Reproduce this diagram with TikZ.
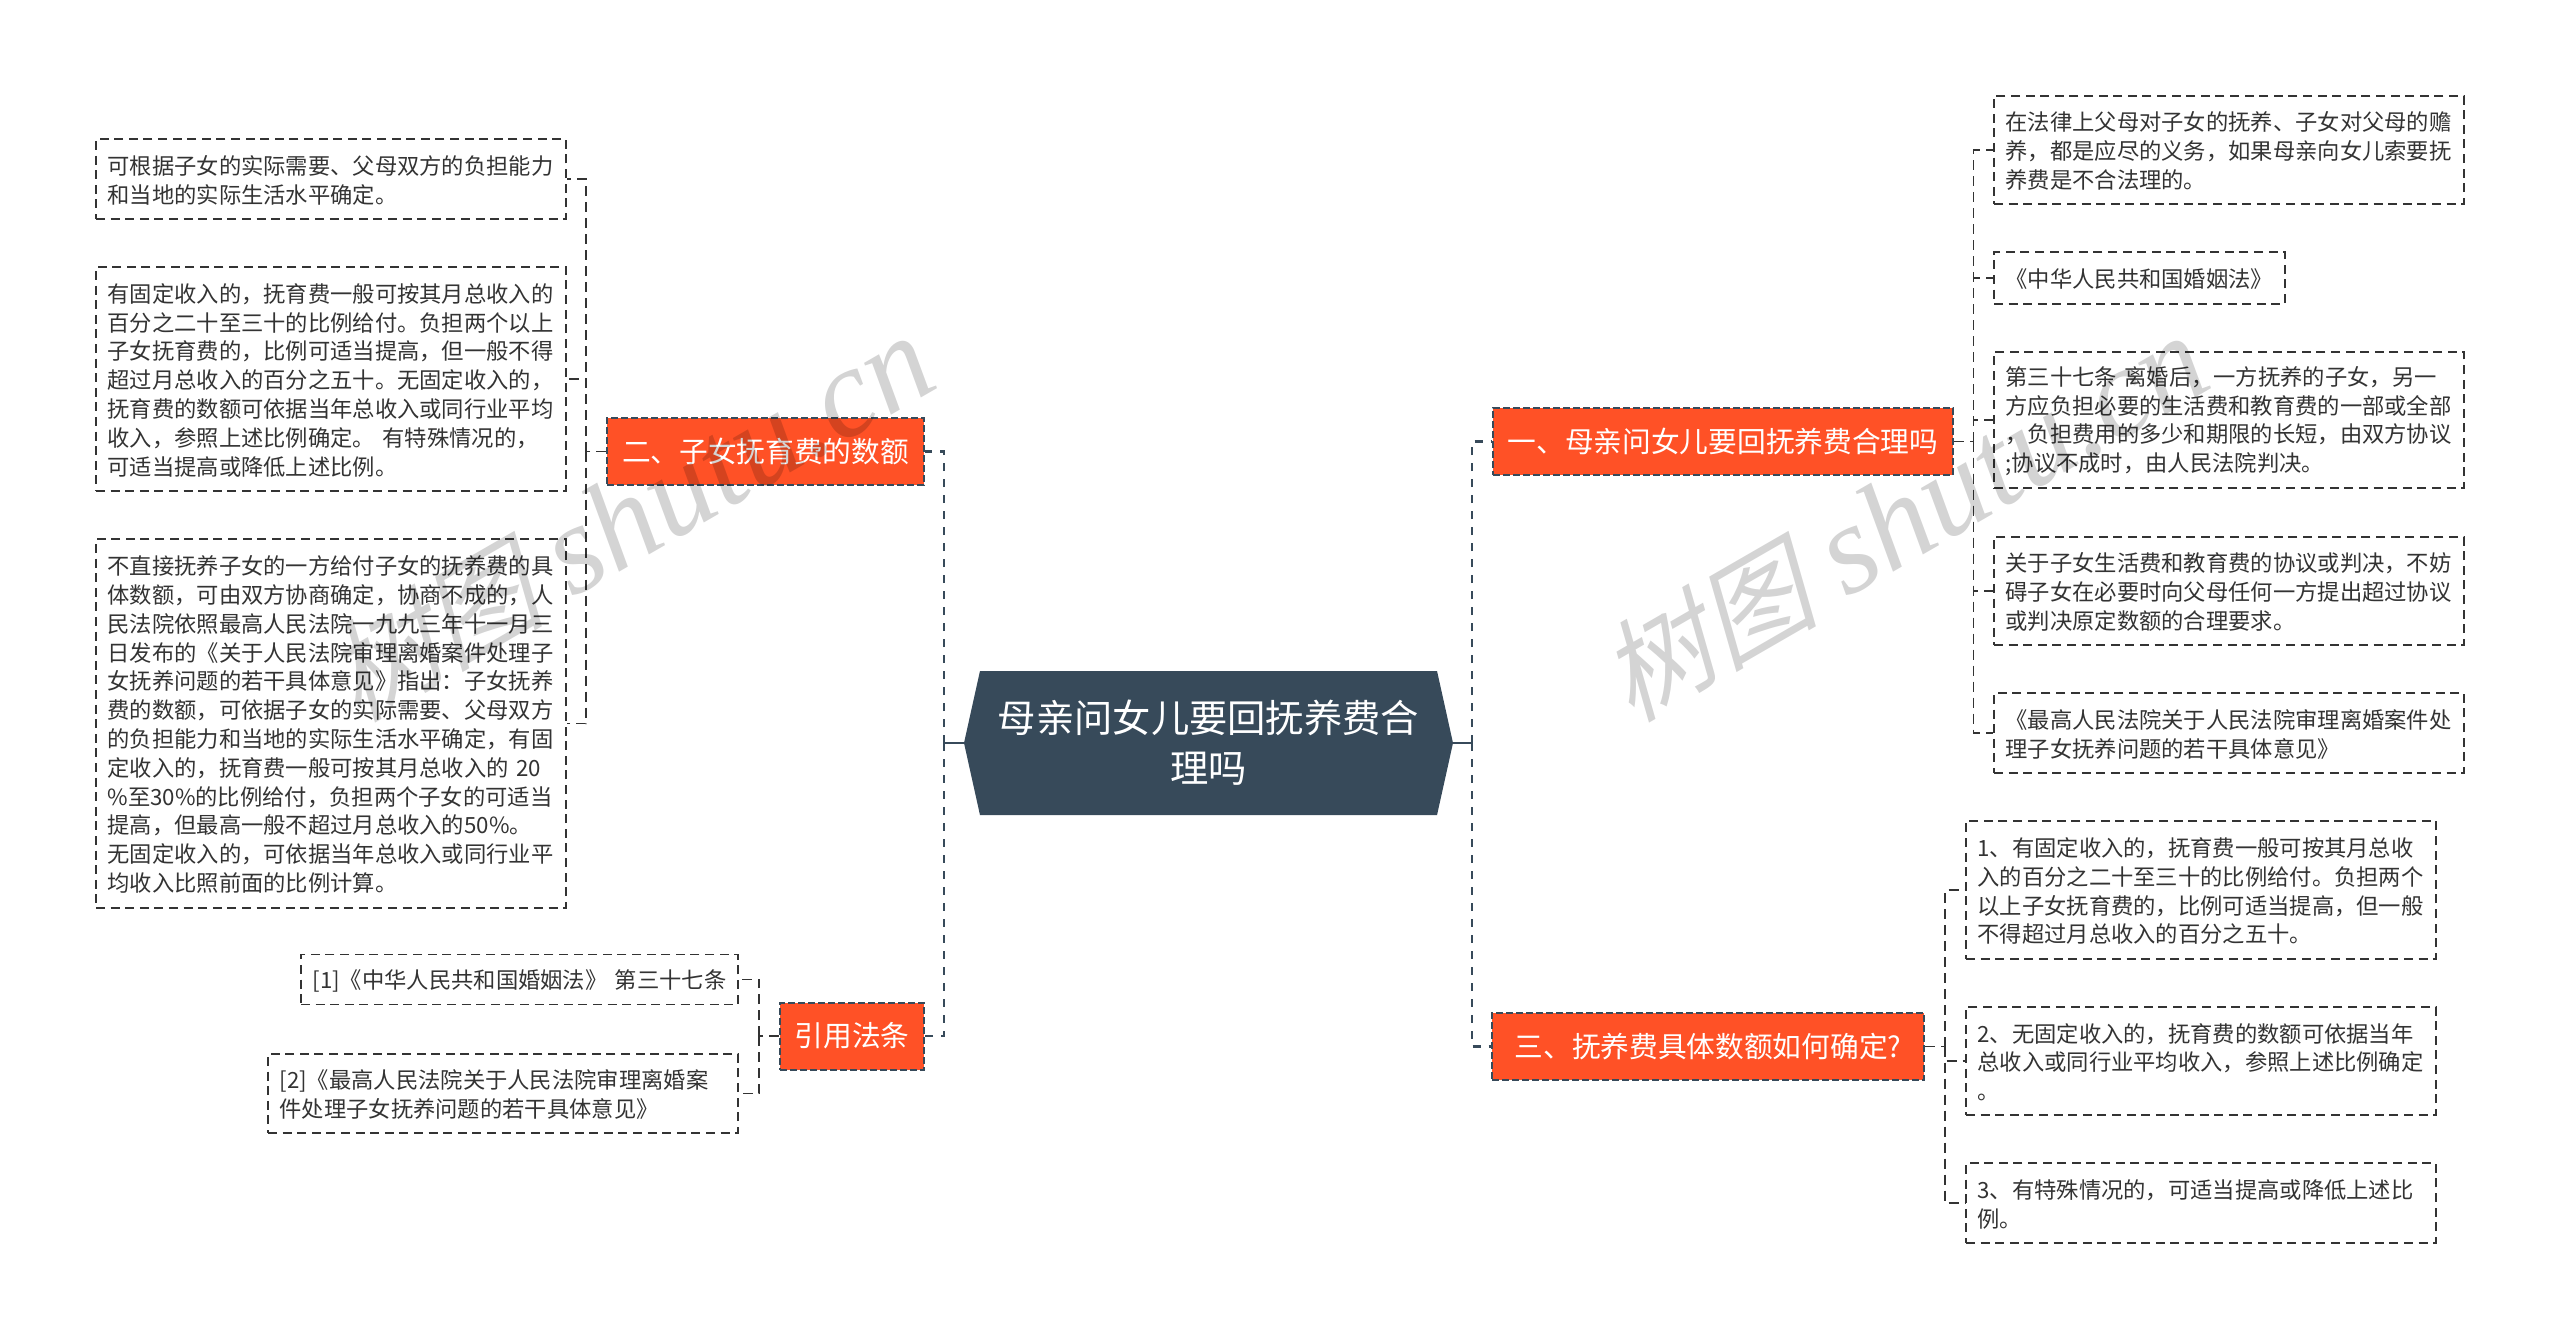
\documentclass[tikz,border=0pt]{standalone}
\usepackage{fontspec}
\usepackage{xcolor}
\setmainfont{Noto Sans CJK SC}
\newfontfamily\wmcjk[FakeSlant=0.25]{Noto Sans CJK SC}
\newfontfamily\wmlat{Liberation Serif}
\usetikzlibrary{positioning}
\usetikzlibrary{shapes.symbols}
\definecolor{rootcol}{HTML}{374A5A}
\definecolor{topiccol}{HTML}{FF5126}
\definecolor{leafcol}{HTML}{333333}
\tikzset{rootnode/.style = {shape=signal, signal to=east and west, signal pointer angle=155, fill=rootcol, text=white, align=center, inner sep=0, minimum width=244.5pt, minimum height=72pt, font=\fontsize{19.15pt}{25pt}\selectfont}}
\tikzset{topic/.style = {fill=topiccol, draw=rootcol, dashed, dash pattern=on 3.5pt off 1.5pt, line width=1pt, text=white, inner sep=0, minimum height=33.5pt, font=\fontsize{14.35pt}{18pt}\selectfont}}
\tikzset{leaf/.style = {draw=leafcol, dash pattern=on 4.5pt off 2.8pt, line width=0.8pt, text=leafcol, align=left, inner xsep=5.75pt, inner ysep=0, font=\fontsize{11.15pt}{14.4pt}\selectfont, execute at begin node={\rule{0pt}{10.6pt}}}}
\tikzset{link/.style = {draw=leafcol, dash pattern=on 5pt off 3pt, line width=0.7pt}}
\tikzset{toplink/.style = {draw=rootcol, dash pattern=on 4pt off 4pt, line width=1.4pt}}
\tikzset{wmark/.style = {rotate=30, text=black, text opacity=0.17, font=\fontsize{63.5pt}{66pt}\selectfont}}

\begin{document}
\begin{tikzpicture}[x=0.5pt,y=-0.5pt]
        \useasboundingbox (0,0) rectangle (2560,1339);
        \node [rootnode] (root) at (1208.5,743) {母亲问女儿要回抚养费合\\理吗};
        \node [topic, minimum width=158.5pt] (fee) at (765.5,451.5) {二、子女抚育费的数额};
        \node [topic, minimum width=72pt] (cite) at (852,1036) {引用法条};
        \node [topic, minimum width=230pt] (ask) at (1723,441.5) {一、母亲问女儿要回抚养费合理吗};
        \node [topic, minimum width=216pt] (amount) at (1708,1046.5) {三、抚养费具体数额如何确定?\hspace{4pt}};

        \node [leaf, text width=223.5pt, minimum height=40pt] (feea) at (331,179) {可根据子女的实际需要、父母双方的负担能力\\和当地的实际生活水平确定。};
        \node [leaf, text width=223.5pt, minimum height=112pt] (feeb) at (331,379) {有固定收入的，抚育费一般可按其月总收入的\\百分之二十至三十的比例给付。负担两个以上\\子女抚育费的，比例可适当提高，但一般不得\\超过月总收入的百分之五十。无固定收入的，\\抚育费的数额可依据当年总收入或同行业平均\\收入，参照上述比例确定。 有特殊情况的，\\可适当提高或降低上述比例。};
        \node [leaf, text width=223.5pt, minimum height=184.5pt] (feec) at (331,723.5) {不直接抚养子女的一方给付子女的抚养费的具\\体数额，可由双方协商确定，协商不成的，人\\民法院依照最高人民法院一九九三年十一月三\\日发布的《关于人民法院审理离婚案件处理子\\女抚养问题的若干具体意见》指出：子女抚养\\费的数额，可依据子女的实际需要、父母双方\\的负担能力和当地的实际生活水平确定，有固\\定收入的，抚育费一般可按其月总收入的 20\\\%至30\%的比例给付，负担两个子女的可适当\\提高，但最高一般不超过月总收入的50\%。\\无固定收入的，可依据当年总收入或同行业平\\均收入比照前面的比例计算。};
        \node [leaf, text width=207pt, minimum height=25pt] (citea) at (519.5,979.5) {[1]《中华人民共和国婚姻法》 第三十七条};
        \node [leaf, text width=223.5pt, minimum height=39.5pt] (citeb) at (503,1093.5) {[2]《最高人民法院关于人民法院审理离婚案\\件处理子女抚养问题的若干具体意见》};

        \node [leaf, text width=223.5pt, minimum height=54pt] (aska) at (2229,150) {在法律上父母对子女的抚养、子女对父母的赡\\养，都是应尽的义务，如果母亲向女儿索要抚\\养费是不合法理的。};
        \node [leaf, text width=134pt, minimum height=26pt] (askb) at (2139.5,278) {《中华人民共和国婚姻法》};
        \node [leaf, text width=223.5pt, minimum height=68pt] (askc) at (2229,420) {第三十七条 离婚后，一方抚养的子女，另一\\方应负担必要的生活费和教育费的一部或全部\\，负担费用的多少和期限的长短，由双方协议\\;协议不成时，由人民法院判决。};
        \node [leaf, text width=223.5pt, minimum height=54pt] (askd) at (2229,591) {关于子女生活费和教育费的协议或判决，不妨\\碍子女在必要时向父母任何一方提出超过协议\\或判决原定数额的合理要求。};
        \node [leaf, text width=223.5pt, minimum height=40pt] (aske) at (2229,733) {《最高人民法院关于人民法院审理离婚案件处\\理子女抚养问题的若干具体意见》};

        \node [leaf, text width=223.5pt, minimum height=69pt] (amounta) at (2201,890) {1、有固定收入的，抚育费一般可按其月总收\\入的百分之二十至三十的比例给付。负担两个\\以上子女抚育费的，比例可适当提高，但一般\\不得超过月总收入的百分之五十。};
        \node [leaf, text width=223.5pt, minimum height=54pt] (amountb) at (2201,1061) {2、无固定收入的，抚育费的数额可依据当年\\总收入或同行业平均收入，参照上述比例确定\\。};
        \node [leaf, text width=223.5pt, minimum height=40pt] (amountc) at (2201,1203) {3、有特殊情况的，可适当提高或降低上述比\\例。};

        \coordinate (trunkl) at (944,743);
        \coordinate (trunkr) at (1472,743);
        \coordinate (feet) at (586,451.5);
        \coordinate (citet) at (759,1036);
        \coordinate (askt) at (1973.5,441.5);
        \coordinate (amountt) at (1945,1046.5);

        \draw [draw=rootcol, line width=1.2pt] (root.west) -- (trunkl);
        \draw [draw=rootcol, line width=1.2pt] (root.east) -- (trunkr);
        \draw [toplink] (trunkl) |- (fee.east);
        \draw [toplink] (trunkl) |- (cite.east);
        \draw [toplink] (trunkr) |- (ask.west);
        \draw [toplink] (trunkr) |- (amount.west);

        \draw [link] (fee.west) -- (feet);
        \draw [link] (feet) |- (feea.east);
        \draw [link] (feet) |- (feeb.east);
        \draw [link] (feet) |- (feec.east);
        \draw [link] (cite.west) -- (citet);
        \draw [link] (citet) |- (citea.east);
        \draw [link] (citet) |- (citeb.east);
        \draw [link] (ask.east) -- (askt);
        \draw [link] (askt) |- (aska.west);
        \draw [link] (askt) |- (askb.west);
        \draw [link] (askt) |- (askc.west);
        \draw [link] (askt) |- (askd.west);
        \draw [link] (askt) |- (aske.west);
        \draw [link] (amount.east) -- (amountt);
        \draw [link] (amountt) |- (amounta.west);
        \draw [link] (amountt) |- (amountb.west);
        \draw [link] (amountt) |- (amountc.west);

        \node [wmark] (markl) at (629,518) {{\wmcjk\fontsize{55pt}{66pt}\selectfont 树图} {\wmlat\itshape shutu.cn}};
        \node [wmark] (markr) at (1903,518) {{\wmcjk\fontsize{55pt}{66pt}\selectfont 树图} {\wmlat\itshape shutu.cn}};
    \end{tikzpicture}
\end{document}
